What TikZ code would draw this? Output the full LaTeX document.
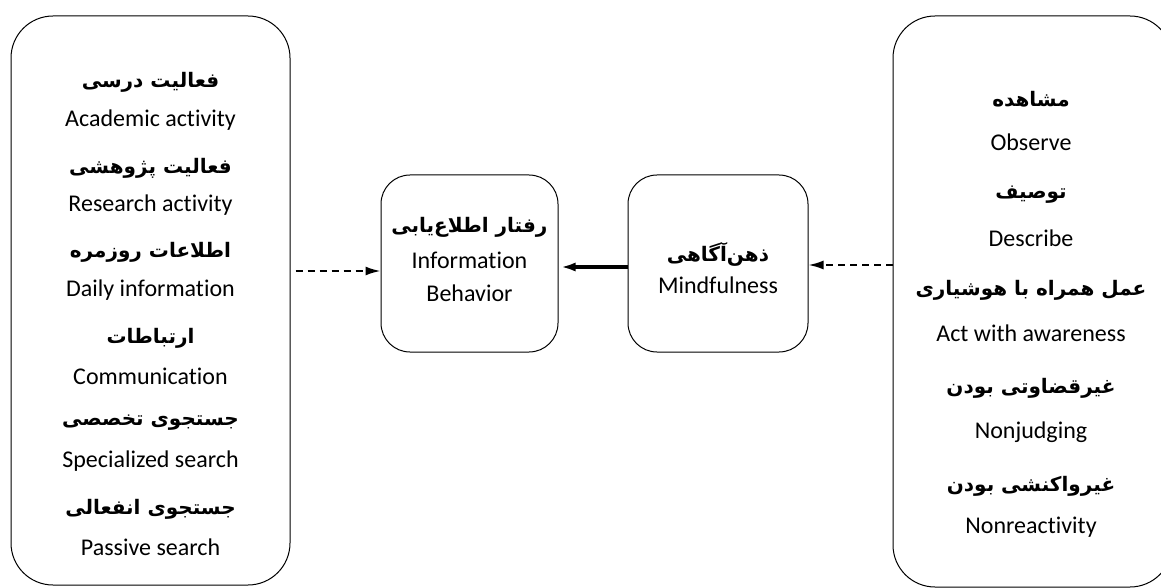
\documentclass[tikz,border=0pt]{standalone}
\usepackage{fontspec}
\setmainfont{Carlito}[Ligatures=CommonOff]
\newfontfamily\farsi[Script=Arabic]{DejaVu Sans}
\TeXXeTstate=1
\usetikzlibrary{arrows.meta}

\begin{document}
\begin{tikzpicture}[x=0.5pt, y=-0.5pt,
    bigbox/.style={draw, rounded corners=21pt, line width=0.5pt, minimum width=139.5pt, inner sep=0pt},
    smallbox/.style={draw, rounded corners=14.5pt, line width=0.5pt, minimum height=88.5pt, inner sep=0pt},
    entext/.style={font=\fontsize{12}{14}\selectfont, inner sep=0pt},
    fatext/.style={font=\farsi\bfseries\fontsize{10}{12}\selectfont, inner sep=0pt},
    dasharr/.style={-{Latex[length=7.5pt,width=4.5pt]}, line width=1pt, dash pattern=on 3.5pt off 2.5pt},
    solidarr/.style={-{Latex[length=7.5pt,width=4.5pt]}, line width=1.5pt}]
    \useasboundingbox (0,0) rectangle (1161,588);
    \clip (0,0) rectangle (1161,588);

    % boxes
    \draw (150.5,300.5) node[bigbox, minimum height=284.5pt](lbox){}
       (1032.5,301.5) node[bigbox, minimum height=285.5pt](rbox){}
       (469.5,263.5) node[smallbox, minimum width=88.5pt](info){}
       (718,263.5) node[smallbox, minimum width=90pt](mind){};

    % left box text
    \draw (150.5,82) node[fatext](l1){\beginR فعالیت درسی\endR}
       (150.5,120) node[entext](l2){Academic activity}
       (150.5,168) node[fatext](l3){\beginR فعالیت پژوهشی\endR}
       (150.5,205) node[entext](l4){Research activity}
       (150.5,252) node[fatext](l5){\beginR اطلاعات روزمره\endR}
       (150.5,290) node[entext](l6){Daily information}
       (150.5,338) node[fatext](l7){\beginR ارتباطات\endR}
       (150.5,376) node[entext](l8){Communication}
       (150.5,423) node[fatext](l9){\beginR جستجوی تخصصی\endR}
       (150.5,461) node[entext](l10){Specialized search}
       (150.5,509) node[fatext](l11){\beginR جستجوی انفعالی\endR}
       (150.5,547) node[entext](l12){Passive search};

    % middle boxes text
    \draw (469.5,227) node[fatext](i1){\beginR رفتار اطلاع‌یابی\endR}
       (469.5,260) node[entext](i2){Information}
       (469.5,293) node[entext](i3){Behavior};
    \draw (718,254) node[fatext](m1){\beginR ذهن‌آگاهی\endR}
       (718,285) node[entext](m2){Mindfulness};

    % right box text
    \draw (1031,99) node[fatext](r1){\beginR مشاهده\endR}
       (1031,142) node[entext](r2){Observe}
       (1031,195) node[fatext](r3){\beginR توصیف\endR}
       (1031,238) node[entext](r4){Describe}
       (1031,290) node[fatext](r5){\beginR عمل همراه با هوشیاری\endR}
       (1031,333) node[entext](r6){Act with awareness}
       (1031,388) node[fatext](r7){\beginR غیرقضاوتی بودن\endR}
       (1031,432) node[entext](r8){Nonjudging}
       (1031,486) node[fatext](r9){\beginR غیرواکنشی بودن\endR}
       (1031,527) node[entext](r10){Nonreactivity};

    \draw[dasharr, shorten <=2.5pt] (lbox.east |- 0,271) -- (info.west |- 0,271);
    \draw[solidarr, shorten >=1pt] (mind.west |- 0,267) -- (info.east |- 0,267);
    \draw[dasharr] (rbox.west |- 0,265) -- (mind.east |- 0,265);
\end{tikzpicture}
\end{document}
